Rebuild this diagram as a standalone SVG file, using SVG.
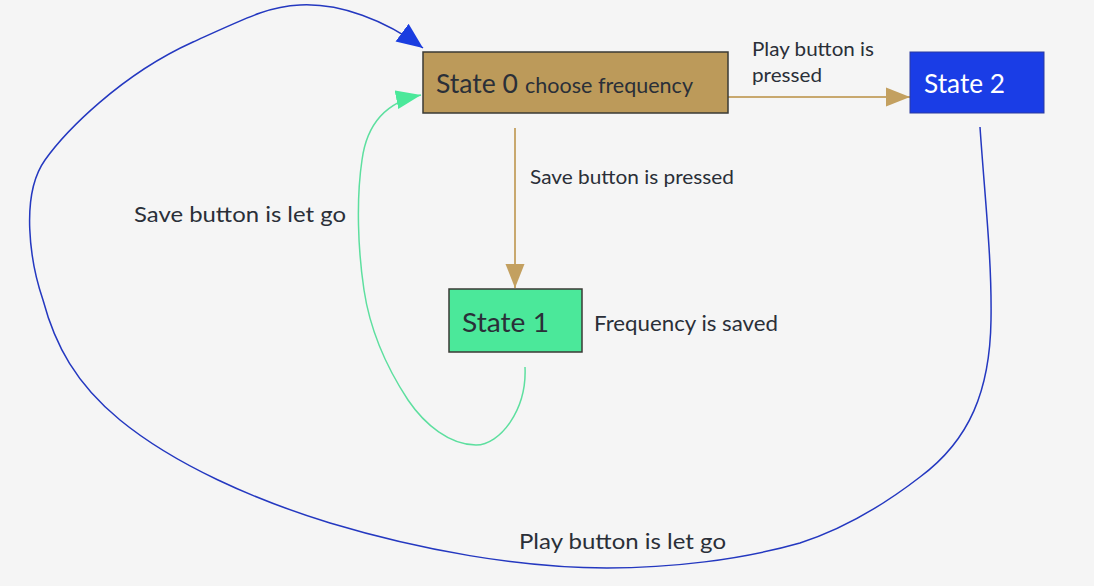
<svg xmlns="http://www.w3.org/2000/svg" width="1094" height="586" viewBox="0 0 1094 586">
<style>
.lbl{font-family:Lato,"Open Sans","Liberation Sans",sans-serif;fill:#2a2f38}
.node{stroke:#3a3a35;stroke-width:1.5}
</style>
<defs>
<marker id="tan" markerWidth="24" markerHeight="20" refX="0" refY="0" viewBox="-24 -10 24 20" orient="auto" markerUnits="userSpaceOnUse"><path d="M-24,-9.5 L0,0 L-24,9.5 Z" fill="#c3a060"/></marker>
<marker id="blue" markerWidth="26" markerHeight="24" refX="0" refY="0" viewBox="-26 -12 26 24" orient="auto" markerUnits="userSpaceOnUse"><path d="M-26,-11 L0,0 L-26,11 Z" fill="#1a3de0"/></marker>
<marker id="green" markerWidth="25" markerHeight="20" refX="0" refY="0" viewBox="-25 -10 25 20" orient="auto" markerUnits="userSpaceOnUse"><path d="M-25,-9.5 L0,0 L-25,9.5 Z" fill="#4be89a"/></marker>
</defs>
<rect width="1094" height="586" fill="#f5f5f5"/>
<g id="connectors" fill="none">
<path d="M728,97 L910,97" stroke="#c8a86e" stroke-width="2" marker-end="url(#tan)"/>
<path d="M515,128 L515,288" stroke="#c8a86e" stroke-width="2" marker-end="url(#tan)"/>
<path d="M525,367 C527,410 500,445 476,445 C450,445 425,425 408,400 C385,365 370,330 364,290 C358,250 356,200 362,160 C366,130 380,103 421,95" stroke="#5ddf9f" stroke-width="1.5" marker-end="url(#green)"/>
<path d="M980,127 C985,200 992,260 991,320 C990,390 970,440 920,477 C880,508 840,530 800,543 C740,560 670,568 607,568 C520,568 420,550 330,523 C255,500 175,465 120,420 C76,384 55,345 43,300 C30,262 20,195 45,160 C65,132 120,75 193,42 C248,17 270,6 300,5 C340,3 385,20 423,48" stroke="#2438c0" stroke-width="1.5" marker-end="url(#blue)"/>
<text class="lbl" x="752" y="56" font-size="19.5" textLength="122" lengthAdjust="spacingAndGlyphs">Play button is</text>
<text class="lbl" x="752" y="82" font-size="19.5" textLength="70" lengthAdjust="spacingAndGlyphs">pressed</text>
<text class="lbl" x="530" y="184" font-size="19.5" textLength="204" lengthAdjust="spacingAndGlyphs">Save button is pressed</text>
<text class="lbl" x="134" y="222" font-size="22" textLength="212" lengthAdjust="spacingAndGlyphs">Save button is let go</text>
<text class="lbl" x="519" y="549" font-size="22" textLength="207" lengthAdjust="spacingAndGlyphs">Play button is let go</text>
<text class="lbl" x="594" y="331" font-size="21" textLength="184" lengthAdjust="spacingAndGlyphs">Frequency is saved</text>
</g>
<g id="state0">
<rect class="node" x="423" y="52" width="305" height="61" fill="#bc9a5a"/>
<text class="lbl" x="436" y="93" font-size="27.5" fill="#2e2e28" textLength="82" lengthAdjust="spacingAndGlyphs">State 0</text>
<text class="lbl" x="525" y="93" font-size="21.5" fill="#2e2e28" textLength="168" lengthAdjust="spacingAndGlyphs">choose frequency</text>
</g>
<g id="state2">
<rect x="910" y="52" width="134" height="61" fill="#1a3de6" stroke="#2a3aa0" stroke-width="1"/>
<text x="924" y="93" font-size="26.5" font-family="Lato,'Open Sans','Liberation Sans',sans-serif" fill="#ffffff" textLength="81" lengthAdjust="spacingAndGlyphs">State 2</text>
</g>
<g id="state1">
<rect class="node" x="449" y="289" width="133" height="63" fill="#4be89a"/>
<text class="lbl" x="462" y="332" font-size="27.5" fill="#1f3a30" textLength="87" lengthAdjust="spacingAndGlyphs">State 1</text>
</g>
</svg>
